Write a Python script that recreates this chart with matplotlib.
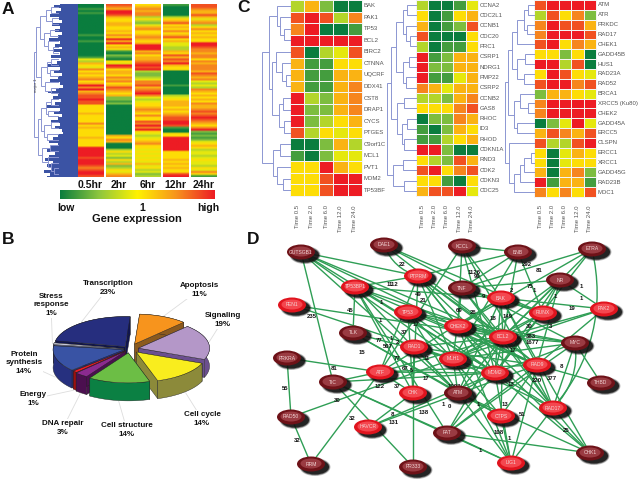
import numpy as np
import matplotlib
from matplotlib import pyplot as plt
from matplotlib.colors import LinearSegmentedColormap
from matplotlib.patches import Ellipse, FancyArrowPatch, Polygon

matplotlib.use('agg')

plt.rcParams['font.family'] = ['Liberation Sans', 'DejaVu Sans']

# ---- panel A: one digit per row, 0 = low (green), 5 = yellow, 9 = high (red)
hours = ["0.5hr", "2hr", "6hr", "12hr", "24hr"]
heat_05 = "001010000000000100100000001" "436547565" "675697967" "88988" "555565555756555565555" "999998999878998"
heat_2 = "8769986" "55665565" "75969" "565" "10210" "54" "98" "56657675687656" "2212" "000000000000000" "6576" "000" "35342536235467"
heat_6 = "56767735324675567656" "999" "6756678" "989" "32234" "77867" "897" "434" "556765755" "87979" "54345675" "545454546453423"
heat_12 = "100000" "35685657568564" "433" "658687965" "5" "000000010000" "34566656567" "88998" "100" "55" "9999999" "55556565655" "89"
heat_24 = "887" "6686467357565655" "99" "87767757677" "768767" "43437" "6565657667" "878987" "6579" "21212" "4565" "34434544354" "751"

# left edge of the solid blue dendrogram block, pixels
dend_edge = [60, 54, 61, 56, 50, 59, 62, 52, 60, 55, 62, 58, 49, 60, 55, 62, 53, 60, 51, 61,
             57, 47, 60, 54, 62, 58, 50, 60, 63, 56, 48, 58, 53, 61, 55, 47, 60, 54, 62, 58,
             51, 60, 55, 62, 63, 58, 53, 49, 58, 51, 47, 55, 49, 45, 53, 47, 51, 44, 50, 47]

tree_a = (1.0,
          (0.9,
           (0.75, (0.5, (0.3, 0, 1), (0.25, 2, 3)), (0.6, (0.35, 4, 5), (0.4, 6, (0.2, 7, 8)))),
           (0.7, (0.45, (0.3, 9, 10), (0.35, 11, 12)), (0.55, 13, (0.3, 14, 15)))),
          (0.85,
           (0.72, (0.5, (0.3, 16, 17), (0.4, 18, 19)), (0.6, (0.3, 20, 21), (0.45, 22, 23))),
           (0.65, (0.35, 24, 25), (0.4, 26, (0.3, 27, (0.15, 28, 29))))))

# ---- panel C
time_labels = ["Time 0.5", "Time 2.0", "Time 6.0", "Time 12.0", "Time 24.0"]

genes_1 = ["BAK", "PAK1", "TP53", "BCL2", "BIRC2", "CTNNA", "UQCRF", "DDX41", "CST8", "DRAP1",
           "CYCS", "PTGES", "C9orf1C", "MCL1", "PVT1", "MDM2", "TP53BF"]
values_1 = [[3, 6, 2, 0, 0], [8, 9, 8, 3, 7], [7, 9, 0, 0, 1], [9, 9, 9, 9, 9], [8, 0, 3, 4, 8],
            [6, 1, 1, 5, 5], [6, 1, 1, 6, 6], [6, 1, 1, 6, 7], [9, 3, 2, 6, 7], [9, 2, 2, 6, 7],
            [9, 2, 3, 5, 6], [8, 3, 5, 4, 5], [0, 0, 2, 6, 3], [1, 0, 2, 4, 4], [5, 5, 9, 6, 5],
            [5, 5, 8, 9, 9], [5, 5, 8, 9, 9]]
tree_1 = (1.0,
          (0.75, (0.45, 0, (0.35, 1, (0.2, 2, 3))),
           (0.65, (0.5, 4, (0.3, 5, (0.15, 6, 7))), (0.4, (0.25, 8, 9), (0.2, 10, 11)))),
          (0.6, (0.35, 12, 13), (0.45, 14, (0.25, 15, 16))))

genes_2 = ["CCNA2", "CDC2L1", "CCNB1", "CDC20", "PRC1", "CSRP1", "NDRG1", "PMP22", "CSRP2", "CCNB2",
           "GAS8", "RHOC", "ID3", "RHOD", "CDKN1A", "RND3", "CDK2", "CDKN3", "CDC25"]
values_2 = [[3, 0, 0, 1, 4], [5, 0, 1, 5, 6], [6, 0, 1, 2, 8], [8, 0, 0, 0, 5], [3, 0, 1, 1, 5],
            [9, 1, 2, 6, 6], [9, 2, 2, 6, 6], [9, 1, 1, 4, 6], [7, 6, 4, 6, 6], [3, 3, 2, 6, 7],
            [5, 5, 5, 7, 8], [0, 2, 2, 7, 6], [1, 0, 2, 6, 5], [1, 1, 3, 5, 6], [9, 9, 2, 0, 0],
            [5, 3, 2, 8, 6], [8, 9, 5, 7, 8], [5, 5, 1, 0, 5], [6, 8, 8, 9, 4]]
tree_2 = (1.0,
          (0.85,
           (0.7, (0.45, (0.3, 0, 1), (0.35, 2, (0.2, 3, 4))), (0.45, (0.25, 5, 6), (0.35, 7, 8))),
           (0.65, (0.4, 9, 10), (0.5, (0.3, 11, 12), (0.4, 13, 14)))),
          (0.8, (0.45, 15, 16), (0.4, 17, 18)))

genes_3 = ["ATM", "ATR", "PRKDC", "RAD17", "CHEK1", "GADD45B", "HUS1", "RAD23A", "RAD52", "BRCA1",
           "XRCC5 (Ku80)", "CHEK2", "GADD45A", "ERCC5", "CLSPN", "ERCC1", "XRCC1", "GADD45G",
           "RAD23B", "MDC1"]
values_3 = [[8, 9, 9, 9, 9], [3, 8, 5, 7, 2], [7, 9, 8, 8, 6], [7, 9, 9, 9, 8], [8, 9, 5, 7, 6],
            [5, 5, 2, 5, 0], [9, 9, 3, 8, 0], [5, 9, 8, 5, 4], [8, 9, 9, 7, 8], [2, 6, 6, 5, 4],
            [7, 9, 9, 9, 9], [7, 9, 9, 9, 9], [0, 2, 4, 9, 4], [6, 8, 7, 6, 8], [8, 3, 3, 8, 9],
            [5, 0, 4, 6, 5], [5, 0, 4, 5, 5], [6, 0, 6, 7, 2], [9, 1, 6, 6, 1], [7, 5, 7, 5, 8]]
tree_3 = (1.0,
          (0.9,
           (0.75, (0.6, (0.35, (0.2, 0, 1), (0.25, 2, 3)), 4), (0.6, (0.3, 5, 6), (0.35, 7, 8))),
           (0.7, (0.5, 9, (0.2, 10, 11)), (0.6, 12, 13))),
          (0.85, 14, (0.7, (0.5, (0.35, (0.12, 15, 16), 17), 18), 19)))

# ---- panel B
pie_names = ["Apoptosis\n11%", "Signaling\n19%", "Cell cycle\n14%", "Cell structure\n14%", "DNA repair\n3%",
             "Energy\n1%", "Protein\nsynthesis\n14%", "Stress\nresponse\n1%", "Transcription\n23%"]
pie_share = [11, 19, 14, 14, 3, 1, 14, 1, 23]
pie_explode = [0.18, 0.13, 0.14, 0.13, 0.10, 0.08, 0.08, 0.08, 0.10]
pie_top = ["#F7941D", "#B497C8", "#F9ED1E", "#6CBE45", "#8B2A8F", "#ED1C24", "#3953A4", "#C7C8DA", "#262E7E"]
pie_side = ["#8B5A1E", "#6B4F8F", "#8C8A3A", "#0B8043", "#4B0F4F", "#9B1010", "#26307F", "#6C6F8F", "#10154F"]
pie_label_x = [199, 223, 202, 127, 63, 33, 24, 51, 108]
pie_label_y = [290, 320, 419, 430, 428, 399, 363, 305, 288]

# ---- panel D
node_names = ["GUTSGB1", "DAE1", "PTPRM", "TP53BP1", "TP53", "FEN1", "TLK", "RAD1", "PRKRA", "ATF", "TIC",
              "CHK", "RAD50", "HAVCR", "RRM", "PR333", "KCCL", "BNB", "ETRA", "NR", "TNF", "BAK", "RUNX",
              "PAK2", "CHEK2", "BCL2", "MYC", "MLH1", "RAD9", "MDM2", "THBD", "ATM", "RAD17", "CTPS",
              "FAT", "LIG1", "CHK1"]
node_x = [301, 384, 418, 355, 408, 292, 353, 414, 287, 380, 333, 413, 291, 368, 311, 413, 462, 518, 592,
          560, 462, 501, 543, 604, 458, 503, 575, 453, 537, 495, 601, 458, 553, 501, 447, 511, 590]
node_y = [252, 245, 276, 287, 312, 305, 333, 347, 358, 372, 382, 393, 417, 427, 464, 467, 246, 252, 249,
          280, 288, 298, 313, 309, 326, 337, 343, 359, 365, 373, 383, 393, 408, 416, 433, 463, 453]
dark_nodes = ["GUTSGB1", "DAE1", "TLK", "PRKRA", "TIC", "RAD50", "RRM", "PR333", "KCCL", "BNB", "ETRA",
              "NR", "TNF", "MYC", "THBD", "ATM", "FAT", "CHK1"]
edges = """GUTSGB1-TIC GUTSGB1-BCL2 GUTSGB1-MDM2 GUTSGB1-PTPRM GUTSGB1-RAD9 GUTSGB1-ATM GUTSGB1-MLH1
DAE1-BCL2 DAE1-RUNX DAE1-MYC PTPRM-TP53BP1 PTPRM-CHK PTPRM-BCL2 PTPRM-MDM2 PTPRM-RAD9 PTPRM-MLH1
PTPRM-CHEK2 PTPRM-RAD17 PTPRM-ATF TP53BP1-TLK TP53BP1-BAK TP53BP1-BCL2 TP53BP1-MDM2 TP53BP1-ATM
TP53BP1-FAT TP53BP1-RAD9 TP53BP1-CHK TP53-BCL2 TP53-MDM2 TP53-MLH1 TP53-CHK TP53-ATM TP53-RAD9 TP53-MYC
FEN1-BCL2 FEN1-MLH1 TLK-ATM TLK-MLH1 TLK-CTPS RAD1-CHK RAD1-BCL2 RAD1-RAD9 RAD1-ATM RAD1-MDM2
PRKRA-RAD50 PRKRA-ATF ATF-RRM ATF-TIC ATF-CHK ATF-BCL2 ATF-MDM2 ATF-RAD9 ATF-BAK ATF-KCCL
RAD50-MLH1 TIC-PR333 TIC-FAT TIC-LIG1 TIC-MDM2 RAD50-RRM HAVCR-CHK HAVCR-MDM2 HAVCR-RAD9 PR333-CHK
KCCL-CHEK2 KCCL-BAK KCCL-BNB KCCL-MDM2 KCCL-RAD17 BNB-RUNX BNB-BCL2 BNB-MLH1 BNB-TNF BNB-PTPRM
ETRA-CHEK2 ETRA-BCL2 ETRA-MDM2 ETRA-TNF NR-BCL2 NR-RUNX NR-PAK2 NR-MDM2 NR-RAD9 NR-MLH1 NR-TNF
TNF-BCL2 TNF-MLH1 TNF-RUNX TNF-RAD17 BAK-PAK2 BAK-CHEK2 BAK-BCL2 BAK-RAD9 BAK-MDM2 BAK-RUNX BAK-ATM BAK-CHK1
RUNX-BCL2 RUNX-MLH1 RUNX-MDM2 PAK2-MLH1 PAK2-BCL2 PAK2-RAD9 CHEK2-BCL2 CHEK2-MDM2 CHEK2-MYC CHEK2-RAD9
CHEK2-CHK1 CHEK2-LIG1 BCL2-MYC BCL2-MDM2 BCL2-RAD9 BCL2-ATM BCL2-MLH1 BCL2-CTPS BCL2-FAT BCL2-RAD17
MYC-MDM2 MYC-MLH1 MYC-RAD17 MYC-THBD MYC-FAT MLH1-MDM2 MLH1-RAD17 MLH1-LIG1 MLH1-ATM MLH1-CTPS
RAD9-THBD RAD9-RAD17 RAD9-CTPS RAD9-FAT RAD9-LIG1 MDM2-ATM MDM2-FAT MDM2-LIG1 MDM2-RAD17 MDM2-CHK1
ATM-LIG1 ATM-CTPS ATM-CHK1 RAD17-CHK1 RAD17-LIG1 FAT-LIG1 FAT-CHK1 CTPS-LIG1""".split()
curved_edges = ["ETRA-RAD17", "PTPRM-DAE1", "MYC-RAD17"]

edge_labels = ["22", "1", "112", "49", "21", "45", "1", "235", "1", "17", "37", "77", "1", "2", "507", "15", "77",
               "11", "81", "67", "5", "122", "37", "17", "55", "30", "8", "138", "131", "32", "32", "1126", "99",
               "292", "81", "1", "75", "1", "2", "1", "1", "19", "9", "69", "26", "18", "149", "30", "3", "383",
               "1677", "17", "8", "220", "377", "13", "1", "0", "1003", "13", "51", "108", "1", "1", "25", "1"]
edge_label_x = [402, 388, 394, 418, 423, 350, 381, 312, 380, 416, 404, 379, 391, 398, 388, 362, 397,
                427, 334, 405, 412, 380, 397, 426, 285, 337, 392, 424, 394, 352, 297, 474, 477,
                527, 539, 581, 530, 534, 512, 555, 581, 572, 483, 459, 473, 493, 508, 529, 551, 531,
                532, 513, 561, 537, 552, 511, 443, 449, 454, 505, 522, 499, 509, 480, 566, 478]
edge_label_y = [264, 284, 285, 294, 301, 310, 303, 317, 321, 325, 332, 340, 339, 343, 347, 352, 359,
                359, 368, 368, 370, 387, 387, 379, 388, 400, 414, 413, 423, 418, 441, 273, 277,
                264, 271, 286, 286, 290, 291, 296, 298, 309, 297, 311, 313, 318, 317, 326, 327, 337,
                342, 351, 366, 380, 379, 385, 404, 406, 387, 405, 415, 433, 439, 451, 431, 404]


def draw_tree(ax, node, x_right, width, y0, row_h, color):
    """Draws a dendrogram from nested (height, left, right) tuples, returns the node's x and y."""
    if not isinstance(node, tuple):
        return x_right, y0 + (node + 0.5) * row_h
    x = x_right - node[0] * width
    xa, ya = draw_tree(ax, node[1], x_right, width, y0, row_h, color)
    xb, yb = draw_tree(ax, node[2], x_right, width, y0, row_h, color)
    ax.plot([xa, x, x, xb], [ya, ya, yb, yb], color=color, lw=0.7, solid_joinstyle='miter')
    return x, (ya + yb) / 2


def heat_block(ax, x0, x1, y0, y1, genes, values, tree, tree_w):
    data = np.array(values)
    xs = np.linspace(x0, x1, data.shape[1] + 1)
    ys = np.linspace(y0, y1, data.shape[0] + 1)
    ax.pcolormesh(xs, ys, data, cmap=expr_cmap, vmin=0, vmax=9, edgecolors='#f4f4f4', linewidth=0.7)
    for i, gene in enumerate(genes):
        ax.text(x1 + 1.5, (ys[i] + ys[i + 1]) / 2, gene, fontsize=4.3, color='#555555', va='center', ha='left')
    for i, label in enumerate(time_labels):
        ax.text((xs[i] + xs[i + 1]) / 2, 205, label, fontsize=4.3, color='#555555', rotation=90, va='top', ha='center')
    draw_tree(ax, tree, x0, tree_w, y0, (y1 - y0) / data.shape[0], '#8C96D2')


def draw_pie(ax):
    cx, cy, rx, ry, depth = 129.5, 349, 71, 30, 18
    angle = 86.0
    slices = []
    for i, share in enumerate(pie_share):
        sweep = share * 3.6
        slices.append((i, angle, angle - sweep))
        angle -= sweep
    # back slices first so the front ones paint over them
    slices.sort(key=lambda s: np.sin(np.radians((s[1] + s[2]) / 2)), reverse=True)
    for i, start, end in slices:
        mid = np.radians((start + end) / 2)
        ox = cx + pie_explode[i] * rx * np.cos(mid)
        oy = cy - pie_explode[i] * ry * np.sin(mid)
        t = np.radians(np.linspace(start, end, 40))
        ex = ox + rx * np.cos(t)
        ey = oy - ry * np.sin(t)
        for k in (0, -1):
            ax.add_patch(Polygon([(ox, oy), (ex[k], ey[k]), (ex[k], ey[k] + depth), (ox, oy + depth)],
                                 fc=pie_side[i], ec='#222222', lw=0.3))
        wall = np.concatenate([np.c_[ex, ey], np.c_[ex, ey + depth][::-1]])
        ax.add_patch(Polygon(wall, fc=pie_side[i], ec='#222222', lw=0.3))
        ax.add_patch(Polygon(np.vstack([[ox, oy], np.c_[ex, ey]]), fc=pie_top[i], ec='#222222', lw=0.3))
        # leader line towards the label
        edge_x = ox + rx * 1.02 * np.cos(mid)
        edge_y = oy - ry * 1.02 * np.sin(mid) + (depth if np.sin(mid) < 0 else 0)
        ax.plot([edge_x, pie_label_x[i]], [edge_y, pie_label_y[i]], color='#dddddd', lw=0.6, zorder=0.5)
    for label, x, y in zip(pie_names, pie_label_x, pie_label_y):
        ax.text(x, y, label, fontsize=5.8, fontweight='bold', ha='center', va='center', linespacing=1.35,
                color='#111111', zorder=5, bbox=dict(fc='white', ec='none', pad=0.5))


def draw_network(ax):
    pos = {n: (x, y) for n, x, y in zip(node_names, node_x, node_y)}
    for edge in edges:
        a, b = edge.split('-')
        ax.plot([pos[a][0], pos[b][0]], [pos[a][1], pos[b][1]], color='#2F9E55', lw=1.0, zorder=2)
    for edge in curved_edges:
        a, b = edge.split('-')
        ax.add_patch(FancyArrowPatch(pos[a], pos[b], arrowstyle='-', connectionstyle='arc3,rad=-0.25',
                                     color='#2F9E55', lw=1.0, shrinkA=0, shrinkB=0, zorder=2))
    for label, x, y in zip(edge_labels, edge_label_x, edge_label_y):
        ax.text(x, y, label, fontsize=4.3, fontweight='bold', color='#111111', ha='center', va='center', zorder=3)
    for name in node_names:
        x, y = pos[name]
        dark = name in dark_nodes
        for grow, alpha in ((3, 0.25), (1.5, 0.45), (0, 0.8)):
            ax.add_patch(Ellipse((x + 4, y + 3), 28 + grow, 15 + grow, fc='#111111', ec='none', alpha=alpha, zorder=4))
        ax.add_patch(Ellipse((x, y), 28, 15, fc='#6E1218' if dark else '#E0141E', ec='none', zorder=5))
        ax.add_patch(Ellipse((x, y - 0.5), 21, 10, fc='#9A3B42' if dark else '#F4474F', ec='none', zorder=5))
        ax.text(x, y, name, fontsize=3.6, color='#F3D6D6', ha='center', va='center', zorder=6)


expr_cmap = LinearSegmentedColormap.from_list(
    "expr", ["#0A7D3E", "#8DC63F", "#FFF200", "#F7941D", "#ED1C24"])

figure = plt.figure(figsize=(6.38, 4.8), dpi=100)
ax = figure.add_axes([0, 0, 1, 1])

# panel A
ax.fill_betweenx(np.linspace(4, 177, len(dend_edge)), dend_edge, 78, color='#3B53A4', step='mid', lw=0)
draw_tree(ax, tree_a, 58, 24, 4, 173 / 30, '#8C96D2')
ax.text(36, 85, "major 1", fontsize=3, rotation=90, color='#444444', ha='center', va='center')
heat_columns = [heat_05, heat_2, heat_6, heat_12, heat_24]
column_left = [78, 106, 135, 163, 191]
for hour, column, left in zip(hours, heat_columns, column_left):
    row_values = np.array([[int(c)] for c in column])
    ax.imshow(row_values, cmap=expr_cmap, vmin=0, vmax=9, extent=(left, left + 25.5, 177, 4),
              aspect='auto', interpolation='bilinear', interpolation_stage='rgba')
    ax.text(left + 12.5, 185.5, hour, fontsize=7.5, fontweight='bold', ha='center', va='center', color='#111111')
ax.imshow(np.linspace(0, 9, 256)[None, :], cmap=expr_cmap, vmin=0, vmax=9, extent=(60, 215, 199, 190),
          aspect='auto')
for label, x in (("low", 66), ("1", 142), ("high", 208)):
    ax.text(x, 208, label, fontsize=7.5, fontweight='bold', ha='center', va='center', color='#111111')
ax.text(137, 219, "Gene expression", fontsize=8, fontweight='bold', ha='center', va='center', color='#111111')

# panel C
heat_block(ax, 290, 362, 0, 196, genes_1, values_1, tree_1, 28)
heat_block(ax, 416, 478, 0, 196, genes_2, values_2, tree_2, 29)
heat_block(ax, 534, 596, 0, 197, genes_3, values_3, tree_3, 29)

draw_pie(ax)
draw_network(ax)

for letter, x, y in (("A", 2, 9), ("B", 2, 240), ("C", 237, 8), ("D", 247, 240)):
    ax.text(x, y, letter, fontsize=12.5, fontweight='bold', ha='left', va='center', color='#111111')

ax.set_xlim(0, 638)
ax.set_ylim(480, 0)
ax.axis('off')
figure.savefig('out.png', dpi=100)
plt.close(figure)
